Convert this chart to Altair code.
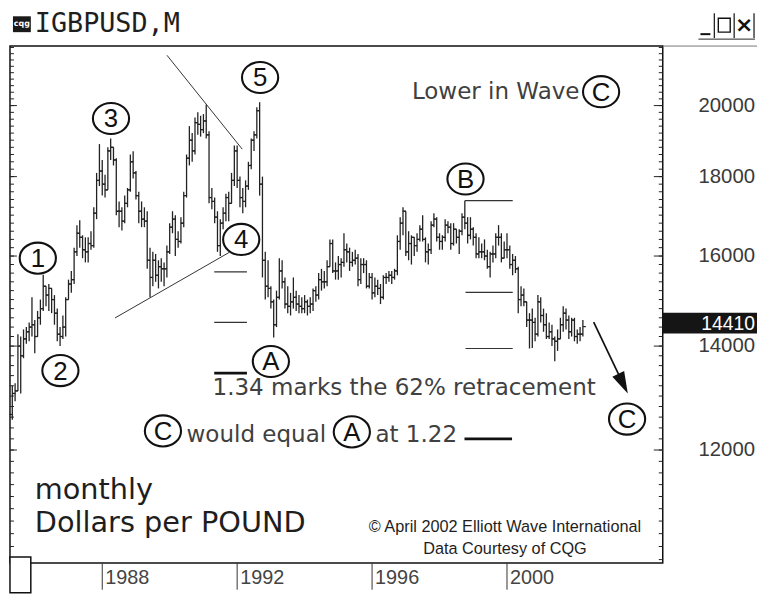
import altair as alt
import pandas as pd

# ---------------- data (monthly GBP/USD x10000, May 1985 .. Apr 2002) ----------------
START_YEAR = 1985
START_MONTH = 5

HIGH = [
    13200, 13250, 14250, 14200, 14350, 14400, 14500, 15050,
    14550, 14750, 15000, 15560, 15300, 15350, 15250, 15100, 14800, 14400, 14650, 15050,
    15450, 15650, 16200, 16750, 16870, 16500, 16450, 16450, 16600, 17200, 18100, 18890,
    18450, 18050, 18800, 19050, 18800, 18500, 17350, 17200, 17500, 17700, 18600, 18690,
    18150, 17600, 17350, 17200, 17100, 16200, 16100, 16050, 15900, 15950, 15850, 16250,
    16800, 17100, 17000, 16600, 16950, 17600, 18600, 19400, 19200, 19650, 19800, 19700,
    19750, 20030, 19250, 17700, 17450, 17100, 16900, 17200, 17550, 17600, 18100, 18850,
    18850, 18000, 17700, 17900, 18400, 19050, 19250, 19950, 20100, 18000, 16100, 15900,
    15300, 15000, 15200, 15950, 15900, 15500, 15300, 15150, 15500, 15200, 15100, 15050,
    15100, 15000, 15050, 15250, 15300, 15600, 15700, 15650, 15900, 16400, 16400, 15850,
    16000, 15950, 16550, 16300, 16200, 16100, 16150, 16050, 15950, 15950, 15900, 15600,
    15600, 15500, 15450, 15350, 15550, 15600, 15650, 15650, 15700, 16500, 16950, 17200,
    17100, 16600, 16500, 16450, 16550, 16750, 17000, 16450, 16300, 16850, 17050, 16950,
    16550, 16500, 16900, 16850, 16800, 16800, 16650, 16650, 17050, 17370, 16950, 16950,
    16700, 16550, 16450, 16300, 16400, 16150, 16100, 16250, 16550, 16750, 16550, 16350,
    16550, 16250, 16050, 16000, 15750, 15300, 15250, 14950, 14700, 14800, 14600, 15100,
    15050, 14800, 14700, 14500, 14450, 14200, 14350, 14600, 14850, 14800, 14650, 14600,
    14600, 14350, 14400, 14550,
]
LOW = [
    12550, 12900, 13100, 13050, 13750, 14050, 14100, 14200,
    13850, 14200, 14450, 14750, 14850, 14750, 14700, 14450, 14100, 14000, 14150, 14200,
    15000, 15150, 15350, 16000, 16200, 15950, 15850, 15850, 16150, 16200, 16900, 17750,
    17500, 17450, 17650, 18450, 18300, 17000, 16700, 16620, 16800, 17200, 17600, 17950,
    17400, 16800, 16700, 16700, 15700, 15050, 15300, 15400, 15250, 15400, 15300, 15500,
    16050, 16550, 16000, 16200, 16300, 16700, 17450, 18300, 18400, 18600, 19150, 19100,
    19200, 19050, 17300, 17150, 16800, 16100, 16000, 16650, 16850, 16850, 17300, 17750,
    17700, 17200, 17050, 17200, 17650, 18200, 18700, 19050, 17500, 15500, 15000, 15050,
    14800, 14180, 14400, 15000, 15250, 14800, 14700, 14650, 14800, 14750, 14700, 14700,
    14700, 14650, 14700, 14750, 14950, 15000, 15200, 15250, 15300, 15750, 15600, 15450,
    15450, 15500, 15750, 15850, 15650, 15750, 15800, 15300, 15350, 15600, 15250, 15250,
    15000, 15050, 15100, 14900, 15000, 15350, 15400, 15350, 15450, 15550, 16150, 16500,
    16000, 15900, 15800, 16000, 16100, 16350, 16350, 15850, 15800, 16050, 16700, 16350,
    16150, 16150, 16350, 16550, 16150, 16250, 16300, 16050, 16500, 16650, 16300, 16400,
    16250, 15950, 15950, 15950, 15900, 15700, 15500, 15850, 15950, 16250, 15850, 15950,
    15950, 15700, 15550, 15600, 14700, 14850, 14850, 14400, 13950, 13960, 14100, 14200,
    14500, 14300, 14150, 14150, 14000, 13690, 13900, 14150, 14300, 14350, 14150, 14200,
    14100, 14050, 14100, 14200,
]
OPEN = [
    12650, 13050, 13100, 14000, 13800, 14150, 14300, 14400,
    14450, 14200, 14600, 14800, 15300, 15100, 15250, 15000, 14700, 14250, 14200, 14400,
    15000, 15350, 15450, 16100, 16550, 16450, 16150, 16100, 16300, 16250, 17050, 17900,
    18150, 17800, 17650, 18700, 18800, 18450, 17100, 17100, 16850, 17300, 17650, 18400,
    18100, 17500, 17100, 16900, 16850, 15900, 15500, 15900, 15550, 15750, 15700, 15700,
    16100, 16700, 16900, 16400, 16350, 16800, 17500, 18500, 19000, 18700, 19500, 19450,
    19300, 19550, 19150, 17450, 17350, 16950, 16250, 16800, 17050, 17450, 17300, 17900,
    18700, 17900, 17450, 17350, 17750, 18300, 19000, 19150, 19850, 17800, 15900, 15300,
    15250, 14950, 14450, 15050, 15650, 15400, 14900, 14850, 14950, 15050, 14900, 14850,
    14800, 14950, 14850, 14900, 15200, 15100, 15450, 15400, 15400, 15750, 16300, 15650,
    15650, 15800, 15850, 16150, 16100, 15850, 15900, 15950, 15450, 15800, 15800, 15300,
    15500, 15150, 15300, 15250, 15050, 15500, 15500, 15550, 15500, 15650, 16350, 16800,
    17100, 16100, 16300, 16450, 16250, 16400, 16650, 16400, 16100, 16150, 16750, 16900,
    16450, 16350, 16450, 16750, 16700, 16300, 16650, 16450, 16600, 16950, 16800, 16500,
    16650, 16450, 16050, 16100, 16100, 16000, 15750, 16050, 16050, 16450, 16450, 15950,
    16150, 16150, 15800, 15900, 15700, 15000, 15100, 14950, 14550, 14550, 14500, 14250,
    14950, 14650, 14450, 14200, 14300, 14150, 14100, 14150, 14450, 14700, 14550, 14300,
    14550, 14200, 14250, 14250,
]
CLOSE = [
    13050, 13100, 14000, 13800, 14150, 14300, 14400, 14450,
    14200, 14600, 14800, 15300, 15100, 15250, 15000, 14700, 14250, 14200, 14400, 15000,
    15350, 15450, 16100, 16550, 16450, 16150, 16100, 16300, 16250, 17050, 17900, 18150,
    17800, 17650, 18700, 18800, 18450, 17100, 17100, 16850, 17300, 17650, 18400, 18100,
    17500, 17100, 16900, 16850, 15900, 15500, 15900, 15550, 15750, 15700, 15700, 16100,
    16700, 16900, 16400, 16350, 16800, 17500, 18500, 19000, 18700, 19500, 19450, 19300,
    19550, 19150, 17450, 17350, 16950, 16250, 16800, 17050, 17450, 17300, 17900, 18700,
    17900, 17450, 17350, 17750, 18300, 19000, 19150, 19850, 17800, 15900, 15300, 15250,
    14950, 14450, 15050, 15650, 15400, 14900, 14850, 14950, 15050, 14900, 14850, 14800,
    14950, 14850, 14900, 15200, 15100, 15450, 15400, 15400, 15750, 16300, 15650, 15650,
    15800, 15850, 16150, 16100, 15850, 15900, 15950, 15450, 15800, 15800, 15300, 15500,
    15150, 15300, 15250, 15050, 15500, 15500, 15550, 15500, 15650, 16350, 16800, 17100,
    16100, 16300, 16450, 16250, 16400, 16650, 16400, 16100, 16150, 16750, 16900, 16450,
    16350, 16450, 16750, 16700, 16300, 16650, 16450, 16600, 16950, 16800, 16500, 16650,
    16450, 16050, 16100, 16100, 16000, 15750, 16050, 16050, 16450, 16450, 15950, 16150,
    16150, 15800, 15900, 15700, 15000, 15100, 14950, 14550, 14550, 14500, 14250, 14950,
    14650, 14450, 14200, 14300, 14150, 14100, 14150, 14450, 14700, 14550, 14300, 14550,
    14200, 14250, 14250, 14410,
]

YEAR_TICKS = [1988, 1992, 1996, 2000]
PRICE_LABELS = [12000, 14000, 16000, 18000, 20000]
MINOR_TICKS = list(range(10200, 21900, 200))
LAST_PRICE = 14410

WAVE_LABELS = ["1", "2", "3", "4", "5", "A", "B", "C"]
WAVE_T = [1986.09, 1986.76, 1988.26, 1992.12, 1992.68, 1993.00, 1998.77, 2003.56]
WAVE_V = [15950, 13500, 19620, 16399, 20850, 13683, 17937, 12563]

NOTE_CIRCLE_LABELS = ["C", "C", "A"]
NOTE_CIRCLE_T = [2002.79, 1989.80, 1995.40]
NOTE_CIRCLE_V = [20416, 12345, 12327]

TREND_T0 = [1989.92, 1988.38]
TREND_V0 = [21549, 14597]
TREND_T1 = [1992.15, 1991.77]
TREND_V1 = [18749, 16089]

LEVEL_T0 = [1991.32, 1991.32, 1998.77, 1998.77, 1998.75]
LEVEL_T1 = [1992.29, 1992.29, 2000.17, 2000.17, 2000.17]
LEVEL_V = [15630, 14500, 15160, 13950, 17370]
THICK_T0 = [1991.32, 1998.74]
THICK_T1 = [1992.29, 2000.15]
THICK_V = [13450, 12200]

ARROW_T = [2002.57, 2003.44]
ARROW_V = [14505, 13240]

NOTE_TEXTS = ["Lower in Wave", "1.34 marks the 62% retracement", "would equal", "at 1.22"]
NOTE_T = [2002.15, 1991.27, 1990.50, 1996.10]
NOTE_V = [20416, 13150, 12273, 12273]
NOTE_ALIGN = ["right", "left", "left", "left"]

BIG_TEXTS = ["monthly", "Dollars per POUND"]
BIG_T = [1986.0, 1986.0]
BIG_V = [11302, 10765]

CREDIT_TEXTS = ["\u00a9 April 2002 Elliott Wave International", "Data Courtesy of CQG"]
CREDIT_T = [1999.94, 1999.94]
CREDIT_V = [10702, 10361]

# ---------------- chart ----------------
W, H = 658, 521
n = len(HIGH)
bars = pd.DataFrame({
    "t": [START_YEAR + (START_MONTH - 1 + i) / 12 for i in range(n)],
    "h": HIGH, "l": LOW, "o": OPEN, "c": CLOSE,
})

XS = alt.Scale(domain=[1985.265, 2004.618], nice=False, zero=False)
YS = alt.Scale(type="log", domain=[10150, 21846], nice=False)


def X(f):
    return alt.X(f, type="quantitative", scale=XS, axis=None)


def Y(f):
    return alt.Y(f, type="quantitative", scale=YS, axis=None)


INK = "#222222"
layers = []

# OHLC bars
layers.append(alt.Chart(bars).mark_rule(color=INK, strokeWidth=1.3).encode(
    x=X("t"), y=Y("l"), y2=alt.Y2("h")))
layers.append(alt.Chart(bars).mark_tick(orient="horizontal", size=3, thickness=1.2, xOffset=-1.5,
                                        color=INK, opacity=1).encode(x=X("t"), y=Y("o")))
layers.append(alt.Chart(bars).mark_tick(orient="horizontal", size=3, thickness=1.2, xOffset=1.5,
                                        color=INK, opacity=1).encode(x=X("t"), y=Y("c")))

# price ticks on both frame borders
minor = pd.DataFrame({"v": MINOR_TICKS})
major = pd.DataFrame({"v": PRICE_LABELS, "lab": [str(p) for p in PRICE_LABELS]})
for x0, x1, d in [(0, 4, minor), (W - 4, W, minor), (0, 7, major), (W - 9, W, major)]:
    layers.append(alt.Chart(d).mark_rule(color="#222", strokeWidth=1).encode(
        x=alt.value(x0), x2=alt.value(x1), y=Y("v")))
layers.append(alt.Chart(major).mark_text(align="right", baseline="middle", font="Liberation Sans",
                                         fontSize=20.5, color="#3a3a3a").encode(
    x=alt.value(751), y=Y("v"), text="lab:N"))

# last price box
last = pd.DataFrame({"v": [LAST_PRICE], "lab": [str(LAST_PRICE)]})
layers.append(alt.Chart(last).mark_tick(orient="horizontal", size=97, thickness=21, color="#151515",
                                        opacity=1, yOffset=-3.5).encode(x=alt.value(706.5), y=Y("v")))
layers.append(alt.Chart(last).mark_text(align="right", baseline="middle", font="Liberation Sans",
                                        fontSize=19.5, color="white", yOffset=-3).encode(
    x=alt.value(751), y=Y("v"), text="lab:N"))

# year axis
years = pd.DataFrame({"t": YEAR_TICKS, "lab": [str(y) for y in YEAR_TICKS]})
layers.append(alt.Chart(years).mark_rule(color="#333", strokeWidth=1).encode(
    x=X("t"), y=alt.value(H), y2=alt.value(H + 27)))
layers.append(alt.Chart(years).mark_text(align="left", baseline="middle", dx=3, font="Liberation Sans",
                                         fontSize=20, color="#444").encode(
    x=X("t"), y=alt.value(H + 15), text="lab:N"))

# trend lines and levels
trend = pd.DataFrame({"t0": TREND_T0, "v0": TREND_V0, "t1": TREND_T1, "v1": TREND_V1})
layers.append(alt.Chart(trend).mark_rule(color="#333", strokeWidth=1).encode(
    x=X("t0"), y=Y("v0"), x2=alt.X2("t1"), y2=alt.Y2("v1")))
levels = pd.DataFrame({"t0": LEVEL_T0, "t1": LEVEL_T1, "v": LEVEL_V})
layers.append(alt.Chart(levels).mark_rule(color="#333", strokeWidth=1.2).encode(
    x=X("t0"), x2=alt.X2("t1"), y=Y("v")))
thick = pd.DataFrame({"t0": THICK_T0, "t1": THICK_T1, "v": THICK_V})
layers.append(alt.Chart(thick).mark_rule(color="#111", strokeWidth=2.6).encode(
    x=X("t0"), x2=alt.X2("t1"), y=Y("v")))

# arrow
arrow = pd.DataFrame({"t0": [ARROW_T[0]], "v0": [ARROW_V[0]], "t1": [ARROW_T[1]], "v1": [ARROW_V[1]]})
layers.append(alt.Chart(arrow).mark_rule(color="#111", strokeWidth=1.7).encode(
    x=X("t0"), y=Y("v0"), x2=alt.X2("t1"), y2=alt.Y2("v1")))
layers.append(alt.Chart(arrow).mark_point(shape="M0,-1L0.6,1L-0.6,1Z", size=484, angle=154,
                                          filled=True, color="#111", opacity=1).encode(
    x=X("t1"), y=Y("v1")))

# circled labels
ELLIPSE = "M-1,0A1,0.86,0,1,1,1,0A1,0.86,0,1,1,-1,0Z"
circ = pd.DataFrame({"t": WAVE_T + NOTE_CIRCLE_T, "v": WAVE_V + NOTE_CIRCLE_V,
                     "lab": WAVE_LABELS + NOTE_CIRCLE_LABELS})
layers.append(alt.Chart(circ).mark_point(shape=ELLIPSE, size=1330, fill="white", fillOpacity=1,
                                         stroke="#111", strokeWidth=2.1, opacity=1).encode(
    x=X("t"), y=Y("v")))
layers.append(alt.Chart(circ).mark_text(align="center", baseline="middle", dy=1, font="Liberation Sans",
                                        fontSize=26, color="#111").encode(
    x=X("t"), y=Y("v"), text="lab:N"))

# annotation texts
notes = pd.DataFrame({"t": NOTE_T, "v": NOTE_V, "s": NOTE_TEXTS, "a": NOTE_ALIGN})
for al in ["left", "right"]:
    layers.append(alt.Chart(notes[notes.a == al]).mark_text(
        align=al, baseline="middle", font="DejaVu Sans", fontSize=23.2, color="#404040").encode(
        x=X("t"), y=Y("v"), text="s:N"))
big = pd.DataFrame({"t": BIG_T, "v": BIG_V, "s": BIG_TEXTS})
layers.append(alt.Chart(big).mark_text(align="left", baseline="middle", font="DejaVu Sans",
                                       fontSize=29, color="#1e1e1e").encode(
    x=X("t"), y=Y("v"), text="s:N"))
credit = pd.DataFrame({"t": CREDIT_T, "v": CREDIT_V, "s": CREDIT_TEXTS})
layers.append(alt.Chart(credit).mark_text(align="center", baseline="middle", font="Liberation Sans",
                                          fontSize=16.4, color="#1e1e1e").encode(
    x=X("t"), y=Y("v"), text="s:N"))

# window chrome (title bar, buttons, scroll box)
one = pd.DataFrame({"k": [0]})
layers.append(alt.Chart(one).mark_rect(fill="#1a1a1a").encode(
    x=alt.value(3), x2=alt.value(21), y=alt.value(-30), y2=alt.value(-14)))
layers.append(alt.Chart(pd.DataFrame({"s": ["cqg"]})).mark_text(
    align="center", baseline="middle", font="DejaVu Sans", fontSize=8, fontWeight="bold",
    color="white").encode(x=alt.value(12), y=alt.value(-22), text="s:N"))
layers.append(alt.Chart(pd.DataFrame({"s": ["IGBPUSD,M"]})).mark_text(
    align="left", baseline="middle", font="DejaVu Sans Mono", fontSize=27, color="#1e1e1e").encode(
    x=alt.value(25), y=alt.value(-22), text="s:N"))
# buttons
for xx in [710, 730, 750]:
    layers.append(alt.Chart(one).mark_rule(color="#222", strokeWidth=1.3).encode(
        x=alt.value(xx), y=alt.value(-33), y2=alt.value(-8)))
layers.append(alt.Chart(one).mark_rule(color="#222", strokeWidth=1).encode(
    x=alt.value(694), x2=alt.value(751), y=alt.value(-7)))
layers.append(alt.Chart(one).mark_rule(color="#111", strokeWidth=2).encode(
    x=alt.value(696), x2=alt.value(706), y=alt.value(-12)))
layers.append(alt.Chart(one).mark_rect(fill="white", stroke="#111", strokeWidth=1.4).encode(
    x=alt.value(714), x2=alt.value(726), y=alt.value(-28), y2=alt.value(-14)))
layers.append(alt.Chart(pd.DataFrame({"s": ["\u00d7"]})).mark_text(
    align="center", baseline="middle", font="DejaVu Sans", fontSize=22, fontWeight="bold",
    color="#111").encode(x=alt.value(740), y=alt.value(-21), text="s:N"))
# top line across the price scale
layers.append(alt.Chart(one).mark_rule(color="#777", strokeWidth=1).encode(
    x=alt.value(W), x2=alt.value(W + 97), y=alt.value(0)))
# small box at lower left
layers.append(alt.Chart(one).mark_rect(fill="white", stroke="#111", strokeWidth=1.5).encode(
    x=alt.value(0), x2=alt.value(21), y=alt.value(H - 6), y2=alt.value(H + 30)))

chart = alt.layer(*layers).properties(
    width=W, height=H,
    padding={"left": 2, "top": 36, "right": 95, "bottom": 32},
    autosize=alt.AutoSizeParams(type="none"),
).configure_view(stroke="#111", strokeWidth=1.5)

chart.save("out.html", embed_options={"renderer": "svg", "actions": False})
